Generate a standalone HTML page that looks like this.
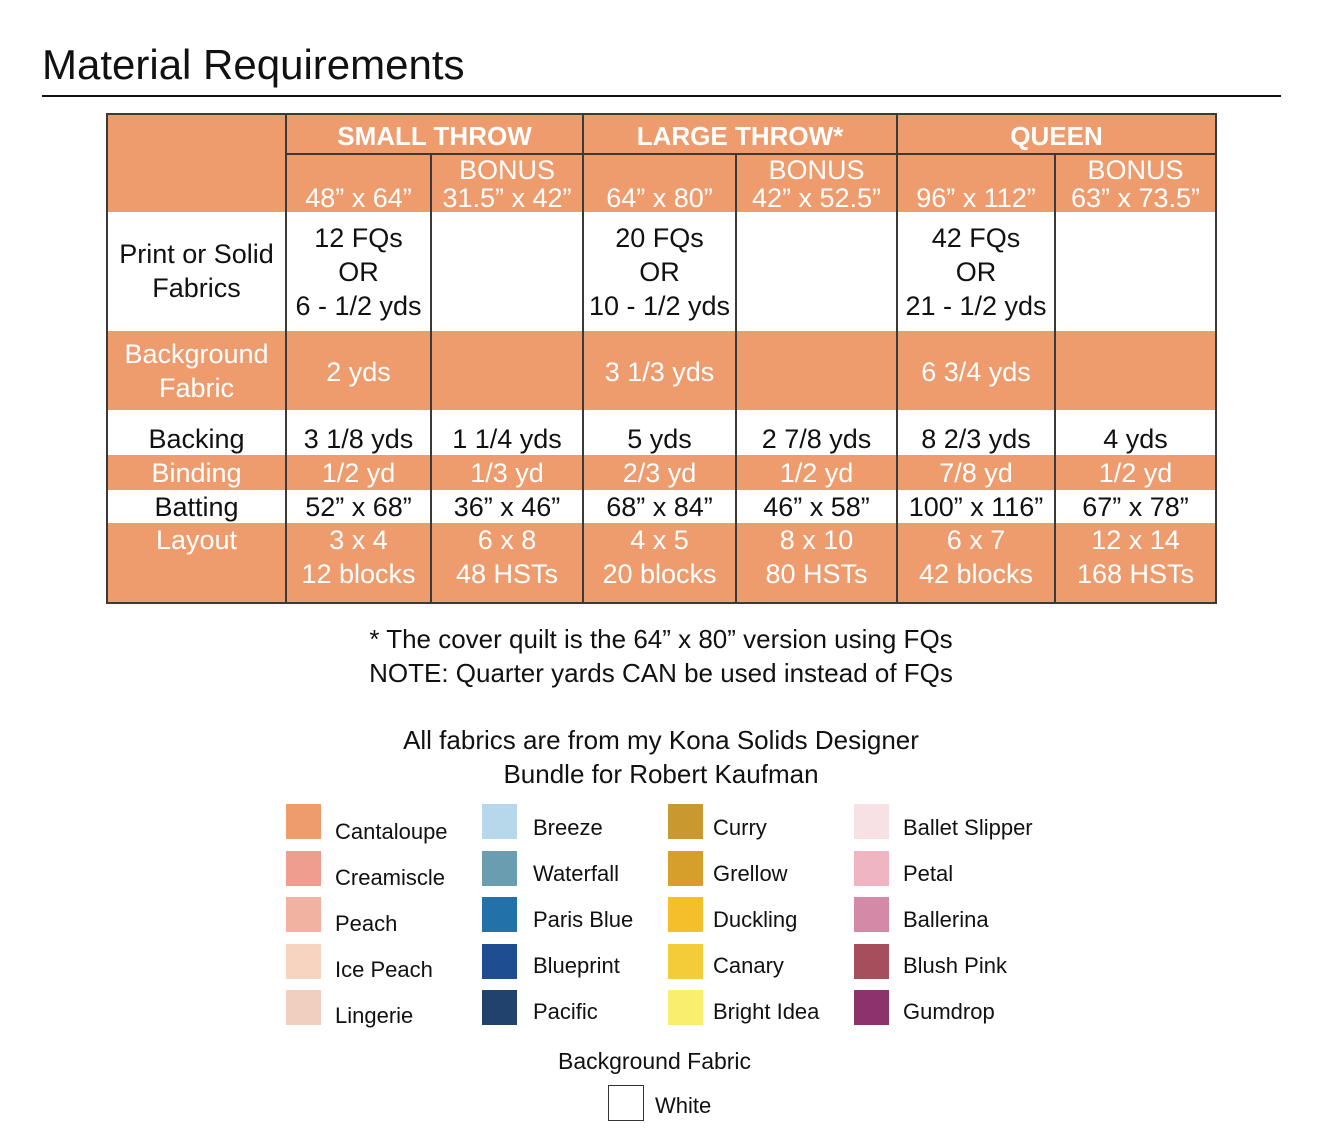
<!DOCTYPE html>
<html><head><meta charset="utf-8"><style>
body{margin:0;width:1320px;height:1134px;background:#fff;position:relative;overflow:hidden;font-family:"Liberation Sans",sans-serif;color:#111}
.a{position:absolute}
.t{position:absolute;text-align:center;font-size:27px;line-height:34px;white-space:nowrap}
.w{color:#fff}
.b{font-weight:bold;font-size:26px}
.o{position:absolute;background:#EE9B6E}
.v{position:absolute;width:2px;background:#3a3a3a}
.sw{position:absolute;width:35px;height:35px}
.l{position:absolute;font-size:22px;line-height:26px;white-space:nowrap}
.bn{line-height:28px}
</style></head><body>
<div class="a" style="left:42px;top:40px;font-size:42px;line-height:50px;color:#111">Material Requirements</div>
<div class="a" style="left:42px;top:95px;width:1239px;height:2px;background:#111"></div>

<!-- orange bands -->
<div class="o" style="left:107px;top:114px;width:1109px;height:98px"></div>
<div class="o" style="left:107px;top:331px;width:1109px;height:79px"></div>
<div class="o" style="left:107px;top:455px;width:1109px;height:35px"></div>
<div class="o" style="left:107px;top:523px;width:1109px;height:80px"></div>
<!-- borders -->
<div class="a" style="box-sizing:border-box;left:106px;top:113px;width:1111px;height:491px;border:2px solid #3a3a3a"></div>
<div class="a" style="left:286px;top:153px;width:930px;height:2px;background:#3a3a3a"></div>
<div class="v" style="left:285px;top:114px;height:489px"></div>
<div class="v" style="left:582px;top:114px;height:489px"></div>
<div class="v" style="left:896px;top:114px;height:489px"></div>
<div class="v" style="left:430px;top:154px;height:449px"></div>
<div class="v" style="left:735px;top:154px;height:449px"></div>
<div class="v" style="left:1054px;top:154px;height:449px"></div>

<div class="t w b" style="left:286px;width:297px;top:119px">SMALL THROW</div>
<div class="t w b" style="left:583px;width:314px;top:119px">LARGE THROW*</div>
<div class="t w b" style="left:897px;width:319px;top:119px">QUEEN</div>

<div class="t w" style="left:286px;width:145px;top:181px">48” x 64”</div>
<div class="t w bn" style="left:431px;width:152px;top:156px">BONUS<br>31.5” x 42”</div>
<div class="t w" style="left:583px;width:153px;top:181px">64” x 80”</div>
<div class="t w bn" style="left:736px;width:161px;top:156px">BONUS<br>42” x 52.5”</div>
<div class="t w" style="left:897px;width:158px;top:181px">96” x 112”</div>
<div class="t w bn" style="left:1055px;width:161px;top:156px">BONUS<br>63” x 73.5”</div>

<div class="t" style="left:107px;width:179px;top:237px">Print or Solid<br>Fabrics</div>
<div class="t" style="left:286px;width:145px;top:221px">12 FQs<br>OR<br>6 - 1/2 yds</div>
<div class="t" style="left:583px;width:153px;top:221px">20 FQs<br>OR<br>10 - 1/2 yds</div>
<div class="t" style="left:897px;width:158px;top:221px">42 FQs<br>OR<br>21 - 1/2 yds</div>

<div class="t w" style="left:107px;width:179px;top:337px">Background<br>Fabric</div>
<div class="t w" style="left:286px;width:145px;top:355px">2 yds</div>
<div class="t w" style="left:583px;width:153px;top:355px">3 1/3 yds</div>
<div class="t w" style="left:897px;width:158px;top:355px">6 3/4 yds</div>

<div class="t" style="left:107px;width:179px;top:422px">Backing</div>
<div class="t" style="left:286px;width:145px;top:422px">3 1/8 yds</div>
<div class="t" style="left:431px;width:152px;top:422px">1 1/4 yds</div>
<div class="t" style="left:583px;width:153px;top:422px">5 yds</div>
<div class="t" style="left:736px;width:161px;top:422px">2 7/8 yds</div>
<div class="t" style="left:897px;width:158px;top:422px">8 2/3 yds</div>
<div class="t" style="left:1055px;width:161px;top:422px">4 yds</div>

<div class="t w" style="left:107px;width:179px;top:456px">Binding</div>
<div class="t w" style="left:286px;width:145px;top:456px">1/2 yd</div>
<div class="t w" style="left:431px;width:152px;top:456px">1/3 yd</div>
<div class="t w" style="left:583px;width:153px;top:456px">2/3 yd</div>
<div class="t w" style="left:736px;width:161px;top:456px">1/2 yd</div>
<div class="t w" style="left:897px;width:158px;top:456px">7/8 yd</div>
<div class="t w" style="left:1055px;width:161px;top:456px">1/2 yd</div>

<div class="t" style="left:107px;width:179px;top:490px">Batting</div>
<div class="t" style="left:286px;width:145px;top:490px">52” x 68”</div>
<div class="t" style="left:431px;width:152px;top:490px">36” x 46”</div>
<div class="t" style="left:583px;width:153px;top:490px">68” x 84”</div>
<div class="t" style="left:736px;width:161px;top:490px">46” x 58”</div>
<div class="t" style="left:897px;width:158px;top:490px">100” x 116”</div>
<div class="t" style="left:1055px;width:161px;top:490px">67” x 78”</div>

<div class="t w" style="left:107px;width:179px;top:523px">Layout</div>
<div class="t w" style="left:286px;width:145px;top:523px">3 x 4<br>12 blocks</div>
<div class="t w" style="left:431px;width:152px;top:523px">6 x 8<br>48 HSTs</div>
<div class="t w" style="left:583px;width:153px;top:523px">4 x 5<br>20 blocks</div>
<div class="t w" style="left:736px;width:161px;top:523px">8 x 10<br>80 HSTs</div>
<div class="t w" style="left:897px;width:158px;top:523px">6 x 7<br>42 blocks</div>
<div class="t w" style="left:1055px;width:161px;top:523px">12 x 14<br>168 HSTs</div>

<div class="t" style="left:0;width:1322px;top:622px;font-size:26px">* The cover quilt is the 64” x 80” version using FQs<br>NOTE: Quarter yards CAN be used instead of FQs</div>
<div class="t" style="left:0;width:1322px;top:723px;font-size:26px">All fabrics are from my Kona Solids Designer<br>Bundle for Robert Kaufman</div>

<div class="sw" style="left:286px;top:804px;background:#EE9B6E"></div><div class="l" style="left:335px;top:819px">Cantaloupe</div>
<div class="sw" style="left:286px;top:851px;background:#EE9D8E"></div><div class="l" style="left:335px;top:865px">Creamiscle</div>
<div class="sw" style="left:286px;top:897px;background:#F2B2A2"></div><div class="l" style="left:335px;top:911px">Peach</div>
<div class="sw" style="left:286px;top:944px;background:#F7D4C0"></div><div class="l" style="left:335px;top:957px">Ice Peach</div>
<div class="sw" style="left:286px;top:990px;background:#F0CFC0"></div><div class="l" style="left:335px;top:1003px">Lingerie</div>

<div class="sw" style="left:482px;top:804px;background:#B7D8EA"></div><div class="l" style="left:533px;top:815px">Breeze</div>
<div class="sw" style="left:482px;top:851px;background:#6A9DB0"></div><div class="l" style="left:533px;top:861px">Waterfall</div>
<div class="sw" style="left:482px;top:897px;background:#2271A9"></div><div class="l" style="left:533px;top:907px">Paris Blue</div>
<div class="sw" style="left:482px;top:944px;background:#1E4E91"></div><div class="l" style="left:533px;top:953px">Blueprint</div>
<div class="sw" style="left:482px;top:990px;background:#22426E"></div><div class="l" style="left:533px;top:999px">Pacific</div>

<div class="sw" style="left:668px;top:804px;background:#C9992F"></div><div class="l" style="left:713px;top:815px">Curry</div>
<div class="sw" style="left:668px;top:851px;background:#D69E2A"></div><div class="l" style="left:713px;top:861px">Grellow</div>
<div class="sw" style="left:668px;top:897px;background:#F5BE2B"></div><div class="l" style="left:713px;top:907px">Duckling</div>
<div class="sw" style="left:668px;top:944px;background:#F4CC3A"></div><div class="l" style="left:713px;top:953px">Canary</div>
<div class="sw" style="left:668px;top:990px;background:#FAEE6F"></div><div class="l" style="left:713px;top:999px">Bright Idea</div>

<div class="sw" style="left:854px;top:804px;background:#F7E1E5"></div><div class="l" style="left:903px;top:815px">Ballet Slipper</div>
<div class="sw" style="left:854px;top:851px;background:#EFB5C2"></div><div class="l" style="left:903px;top:861px">Petal</div>
<div class="sw" style="left:854px;top:897px;background:#D48AA6"></div><div class="l" style="left:903px;top:907px">Ballerina</div>
<div class="sw" style="left:854px;top:944px;background:#A74E5D"></div><div class="l" style="left:903px;top:953px">Blush Pink</div>
<div class="sw" style="left:854px;top:990px;background:#8B336A"></div><div class="l" style="left:903px;top:999px">Gumdrop</div>

<div class="l" style="left:558px;top:1048px;font-size:23px">Background Fabric</div>
<div class="a" style="left:608px;top:1085px;width:34px;height:34px;border:1px solid #333"></div>
<div class="l" style="left:655px;top:1093px">White</div>
</body></html>
